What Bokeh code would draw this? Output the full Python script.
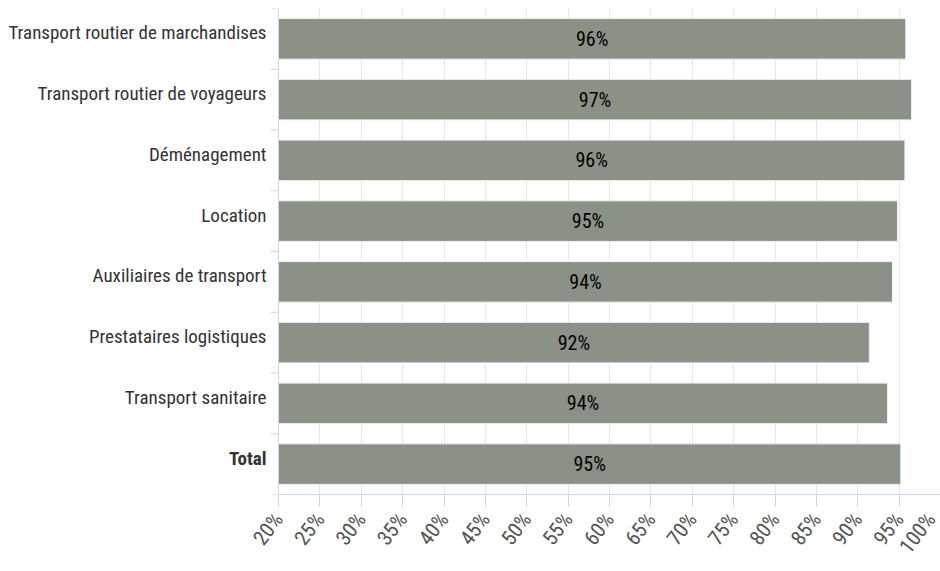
from bokeh.plotting import figure
from bokeh.models import (ColumnDataSource, Range1d, FixedTicker,
                          PrintfTickFormatter, LabelSet, Span)
from bokeh.embed import file_html
from bokeh.resources import INLINE
from bokeh.core.properties import value

# ---- data ----
categories = [
    "Transport routier de marchandises",
    "Transport routier de voyageurs",
    "Déménagement",
    "Location",
    "Auxiliaires de transport",
    "Prestataires logistiques",
    "Transport sanitaire",
    "Total",
]
shares = [95.8, 96.5, 95.7, 94.8, 94.2, 91.4, 93.6, 95.2]
share_labels = ["96%", "97%", "96%", "95%", "94%", "92%", "94%", "95%"]
x_ticks = [20, 25, 30, 35, 40, 45, 50, 55, 60, 65, 70, 75, 80, 85, 90, 95, 100]
x_start = 20
x_end = 100

NARROW = "Liberation Sans Narrow, Arial Narrow, Roboto Condensed, Liberation Sans, sans-serif"
BAR = "#8a9186"
AXIS = "#ccd6eb"
GRID = "#e6e6e6"

W, H = 940, 571
TOP, BOTTOM = 8, 77
AXIS_LEFT_PX = 278          # where the value axis starts on the canvas
PX = (W - AXIS_LEFT_PX) / (x_end - x_start)   # pixels per percentage point
x_min = x_start - AXIS_LEFT_PX / PX           # room on the left for the names

n = len(categories)
src = ColumnDataSource(dict(
    cat=categories,
    pos=[n - i - 0.5 for i in range(n)],
    share=shares,
    label=share_labels,
    mid=[(x_start + v) / 2 for v in shares],
    style=["bold" if c == "Total" else "normal" for c in categories],
    base=[x_start] * n,
    name_x=[x_start - 12 / PX] * n,
))
bounds = ColumnDataSource(dict(
    y=list(range(n + 1)),
    x0=[x_start - 8 / PX] * (n + 1),
    x1=[x_start] * (n + 1),
))

p = figure(width=W, height=H, y_range=Range1d(0, n), x_range=Range1d(x_min, x_end),
           output_backend="svg", toolbar_location=None, y_axis_location=None,
           min_border_left=0, min_border_right=0, min_border_top=TOP,
           min_border_bottom=BOTTOM)
p.outline_line_color = None

# vertical grid
p.xgrid.ticker = FixedTicker(ticks=x_ticks)
p.xgrid.grid_line_color = GRID
p.ygrid.grid_line_color = None

# category axis line and boundary ticks
p.add_layout(Span(location=x_start, dimension="height", line_color=AXIS, line_width=1))
p.segment(x0="x0", x1="x1", y0="y", y1="y", source=bounds, line_color=AXIS, line_width=1)

# bars
p.hbar(y="pos", left="base", right="share", height=0.667, source=src,
       fill_color=BAR, line_color="#f2f2f2", line_width=1)

# value labels inside the bars
p.add_layout(LabelSet(x="mid", y="pos", text="label", source=src,
                      text_align="center", text_baseline="middle",
                      text_font=value(NARROW), text_font_size="20px",
                      text_color="#000000"))

# category names, Total in bold
p.add_layout(LabelSet(x="name_x", y="pos", text="cat", source=src,
                      text_align="right", text_baseline="middle",
                      text_font=value(NARROW), text_font_size="19px",
                      text_font_style="style", text_color="#333333",
                      y_offset=6))

# x axis
p.xaxis.bounds = (x_start, x_end)
p.xaxis.ticker = FixedTicker(ticks=x_ticks)
p.xaxis.formatter = PrintfTickFormatter(format="%d%%")
p.xaxis.axis_line_color = AXIS
p.xaxis.major_tick_line_color = AXIS
p.xaxis.major_tick_out = 12
p.xaxis.major_tick_in = 0
p.xaxis.minor_tick_line_color = None
p.xaxis.major_label_orientation = 0.92
p.xaxis.major_label_standoff = 9
p.xaxis.major_label_text_font = NARROW
p.xaxis.major_label_text_font_size = "21px"
p.xaxis.major_label_text_color = "#555555"

open("out.html", "w").write(file_html(p, INLINE))
